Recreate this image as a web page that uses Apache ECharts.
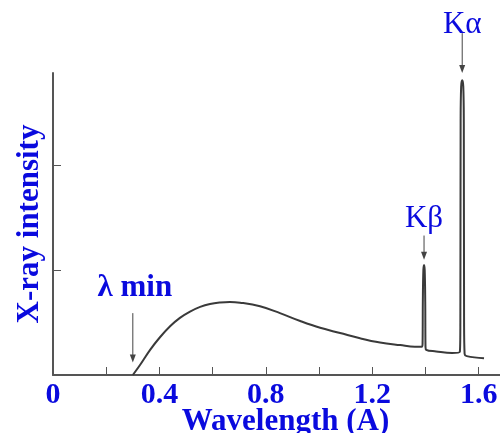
<!DOCTYPE html>
<html>
<head>
<meta charset="utf-8">
<script src="https://cdn.jsdelivr.net/npm/echarts@6/dist/echarts.min.js"></script>
<style>html,body{margin:0;padding:0;background:#fff}#c{width:500px;height:433px}</style>
</head>
<body>
<div id="c"></div>
<script>
// ---- data ----
var wavelength = [0.300, 0.327, 0.365, 0.402, 0.440, 0.477, 0.515, 0.553, 0.590, 0.628, 0.665, 0.703, 0.778, 0.853, 0.929, 1.004, 1.079, 1.154, 1.229, 1.305, 1.360, 1.386, 1.389, 1.390, 1.392, 1.3945, 1.397, 1.399, 1.400, 1.403, 1.440, 1.500, 1.529, 1.531, 1.532, 1.534, 1.538, 1.542, 1.544, 1.545, 1.547, 1.555, 1.620];
var intensity  = [0.000, 0.095, 0.240, 0.360, 0.465, 0.545, 0.605, 0.650, 0.678, 0.692, 0.697, 0.690, 0.655, 0.590, 0.515, 0.450, 0.400, 0.350, 0.310, 0.285, 0.270, 0.270, 0.300, 0.700, 1.000, 1.050, 1.000, 0.700, 0.270, 0.240, 0.225, 0.210, 0.220, 0.500, 2.400, 2.750, 2.810, 2.750, 2.400, 0.500, 0.200, 0.180, 0.160];
var xLabelValues = [0, 0.4, 0.8, 1.2, 1.6];
var xTickValues = [0.2, 0.4, 0.6, 0.8, 1.0, 1.2, 1.4, 1.6];
var yTickValues = [1, 2];
var xName = 'Wavelength (A)';
var yName = 'X-ray intensity';
var annLabels = ['λ min', 'Kβ', 'Kα'];
var annX = [0.30, 1.3945, 1.538];
var annFrom = [0.59, 1.33, 3.26];
var annTo = [0.12, 1.10, 2.88];

// ---- styles ----
var BLUE = '#0a0ade';
var SERIF = '"Liberation Serif","Times New Roman",serif';
var AXIS = '#555';

var chart = echarts.init(document.getElementById('c'), null, {renderer: 'canvas'});
var pts = wavelength.map(function (w, i) { return [w, intensity[i]]; });
chart.setOption({
  animation: false,
  backgroundColor: '#fff',
  grid: {left: 53, right: 0, top: 73, bottom: 58, containLabel: false, outerBoundsMode: 'none'},
  xAxis: {
    type: 'value', min: 0, max: 1.68,
    name: xName, nameLocation: 'middle', nameGap: 31, nameMoveOverlap: false,
    nameTextStyle: {color: BLUE, fontFamily: SERIF, fontWeight: 'bold', fontSize: 31, padding: [0, 0, 0, 18]},
    axisLine: {show: true, lineStyle: {color: AXIS, width: 2}},
    axisTick: {show: true, inside: true, length: 8, customValues: xTickValues, lineStyle: {color: AXIS, width: 1}},
    axisLabel: {customValues: xLabelValues, color: BLUE, fontFamily: SERIF, fontWeight: 'bold', fontSize: 30, margin: 5,
      formatter: function (v) { return v === 0 ? '0' : v.toFixed(1); }},
    splitLine: {show: false}
  },
  yAxis: {
    type: 'value', min: 0, max: 2.88,
    name: yName, nameLocation: 'middle', nameGap: 8, nameRotate: 90, nameMoveOverlap: false,
    nameTextStyle: {color: BLUE, fontFamily: SERIF, fontWeight: 'bold', fontSize: 31},
    axisLine: {show: true, lineStyle: {color: AXIS, width: 2}},
    axisTick: {show: true, inside: true, length: 8, customValues: yTickValues, lineStyle: {color: AXIS, width: 1}},
    axisLabel: {show: false},
    splitLine: {show: false}
  },
  series: [{
    type: 'line', data: pts, showSymbol: false, symbol: 'none',
    smooth: 0.4, clip: false,
    lineStyle: {color: '#3a3a3a', width: 2}
  }]
});

var offs = [-25, -17, -8];
var gr = [];
annLabels.forEach(function (lab, i) {
  var a = chart.convertToPixel({gridIndex: 0}, [annX[i], annFrom[i]]);
  var b = chart.convertToPixel({gridIndex: 0}, [annX[i], annTo[i]]);
  gr.push({type: 'line', shape: {x1: a[0], y1: a[1], x2: b[0], y2: b[1] - 6}, style: {stroke: '#444', lineWidth: 1}, silent: true});
  gr.push({type: 'polygon', shape: {points: [[b[0] - 3, b[1] - 8], [b[0] + 3, b[1] - 8], [b[0], b[1]]]}, style: {fill: '#444'}, silent: true});
  gr.push({type: 'text', x: a[0] + (i === 0 ? 2 : 0), y: a[1] + offs[i],
    style: {text: lab, fill: BLUE, font: (i === 0 ? 'bold ' : '') + '31px ' + SERIF, align: 'center', verticalAlign: 'middle'}, silent: true});
});
chart.setOption({graphic: gr});
</script>
</body>
</html>
